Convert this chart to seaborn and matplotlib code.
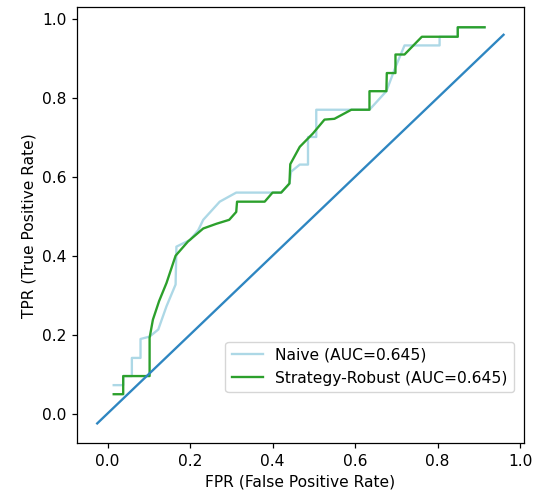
import pandas as pd
import matplotlib.pyplot as plt
import seaborn as sns

# ROC curve points
robust_fpr = [0.015, 0.038, 0.038, 0.102, 0.102, 0.110, 0.125, 0.143, 0.165, 0.195, 0.232,
              0.264, 0.295, 0.312, 0.314, 0.381, 0.400, 0.421, 0.441, 0.443, 0.466, 0.498,
              0.526, 0.550, 0.591, 0.635, 0.635, 0.676, 0.677, 0.698, 0.698, 0.720, 0.762,
              0.849, 0.849, 0.914]
robust_tpr = [0.049, 0.049, 0.095, 0.095, 0.192, 0.238, 0.285, 0.331, 0.400, 0.436, 0.469,
              0.481, 0.491, 0.511, 0.537, 0.537, 0.560, 0.560, 0.583, 0.632, 0.676, 0.710,
              0.745, 0.747, 0.770, 0.770, 0.817, 0.817, 0.863, 0.863, 0.910, 0.910, 0.955,
              0.955, 0.979, 0.979]

naive_fpr = [0.015, 0.038, 0.038, 0.059, 0.059, 0.080, 0.080, 0.102, 0.123, 0.143, 0.165,
             0.167, 0.200, 0.220, 0.232, 0.272, 0.312, 0.397, 0.421, 0.441, 0.445, 0.466,
             0.486, 0.486, 0.506, 0.506, 0.635, 0.676, 0.698, 0.720, 0.805, 0.805, 0.849,
             0.849, 0.914]
naive_tpr = [0.072, 0.072, 0.095, 0.095, 0.141, 0.141, 0.189, 0.195, 0.213, 0.272, 0.327,
             0.423, 0.440, 0.465, 0.491, 0.537, 0.560, 0.560, 0.560, 0.583, 0.613, 0.631,
             0.631, 0.701, 0.701, 0.770, 0.770, 0.817, 0.878, 0.933, 0.933, 0.955, 0.955,
             0.979, 0.979]

diag = [-0.025, 0.96]

labels = ["Naive (AUC=0.645)", "Strategy-Robust (AUC=0.645)"]

scale = 1.12  # reference looks rendered slightly larger than the default
plt.rcParams.update({
    "font.size": 10 * scale,
    "axes.linewidth": 0.8 * scale,
    "xtick.major.size": 3.5 * scale,
    "ytick.major.size": 3.5 * scale,
    "xtick.major.width": 0.8 * scale,
    "ytick.major.width": 0.8 * scale,
})

fig = plt.figure(figsize=(5.34, 4.98), dpi=100)
ax = fig.add_axes([0.144, 0.110, 0.837, 0.875])

df_naive = pd.DataFrame({"fpr": naive_fpr, "tpr": naive_tpr})
df_robust = pd.DataFrame({"fpr": robust_fpr, "tpr": robust_tpr})

lw = 1.5 * scale
sns.lineplot(data=df_naive, x="fpr", y="tpr", sort=False, estimator=None,
             color="lightblue", linewidth=lw, label=labels[0], ax=ax)
sns.lineplot(data=df_robust, x="fpr", y="tpr", sort=False, estimator=None,
             color="#2ca02c", linewidth=lw, label=labels[1], ax=ax)
sns.lineplot(x=diag, y=diag, sort=False, estimator=None, color="#2e86c1",
             linewidth=lw, ax=ax)

ax.set_xlabel("FPR (False Positive Rate)")
ax.set_ylabel("TPR (True Positive Rate)")
ax.set_xticks([0.0, 0.2, 0.4, 0.6, 0.8, 1.0])
ax.set_yticks([0.0, 0.2, 0.4, 0.6, 0.8, 1.0])
ax.legend(loc="lower right", bbox_to_anchor=(0.995, 0.1))

fig.savefig("out.png", dpi=100)
plt.close()
